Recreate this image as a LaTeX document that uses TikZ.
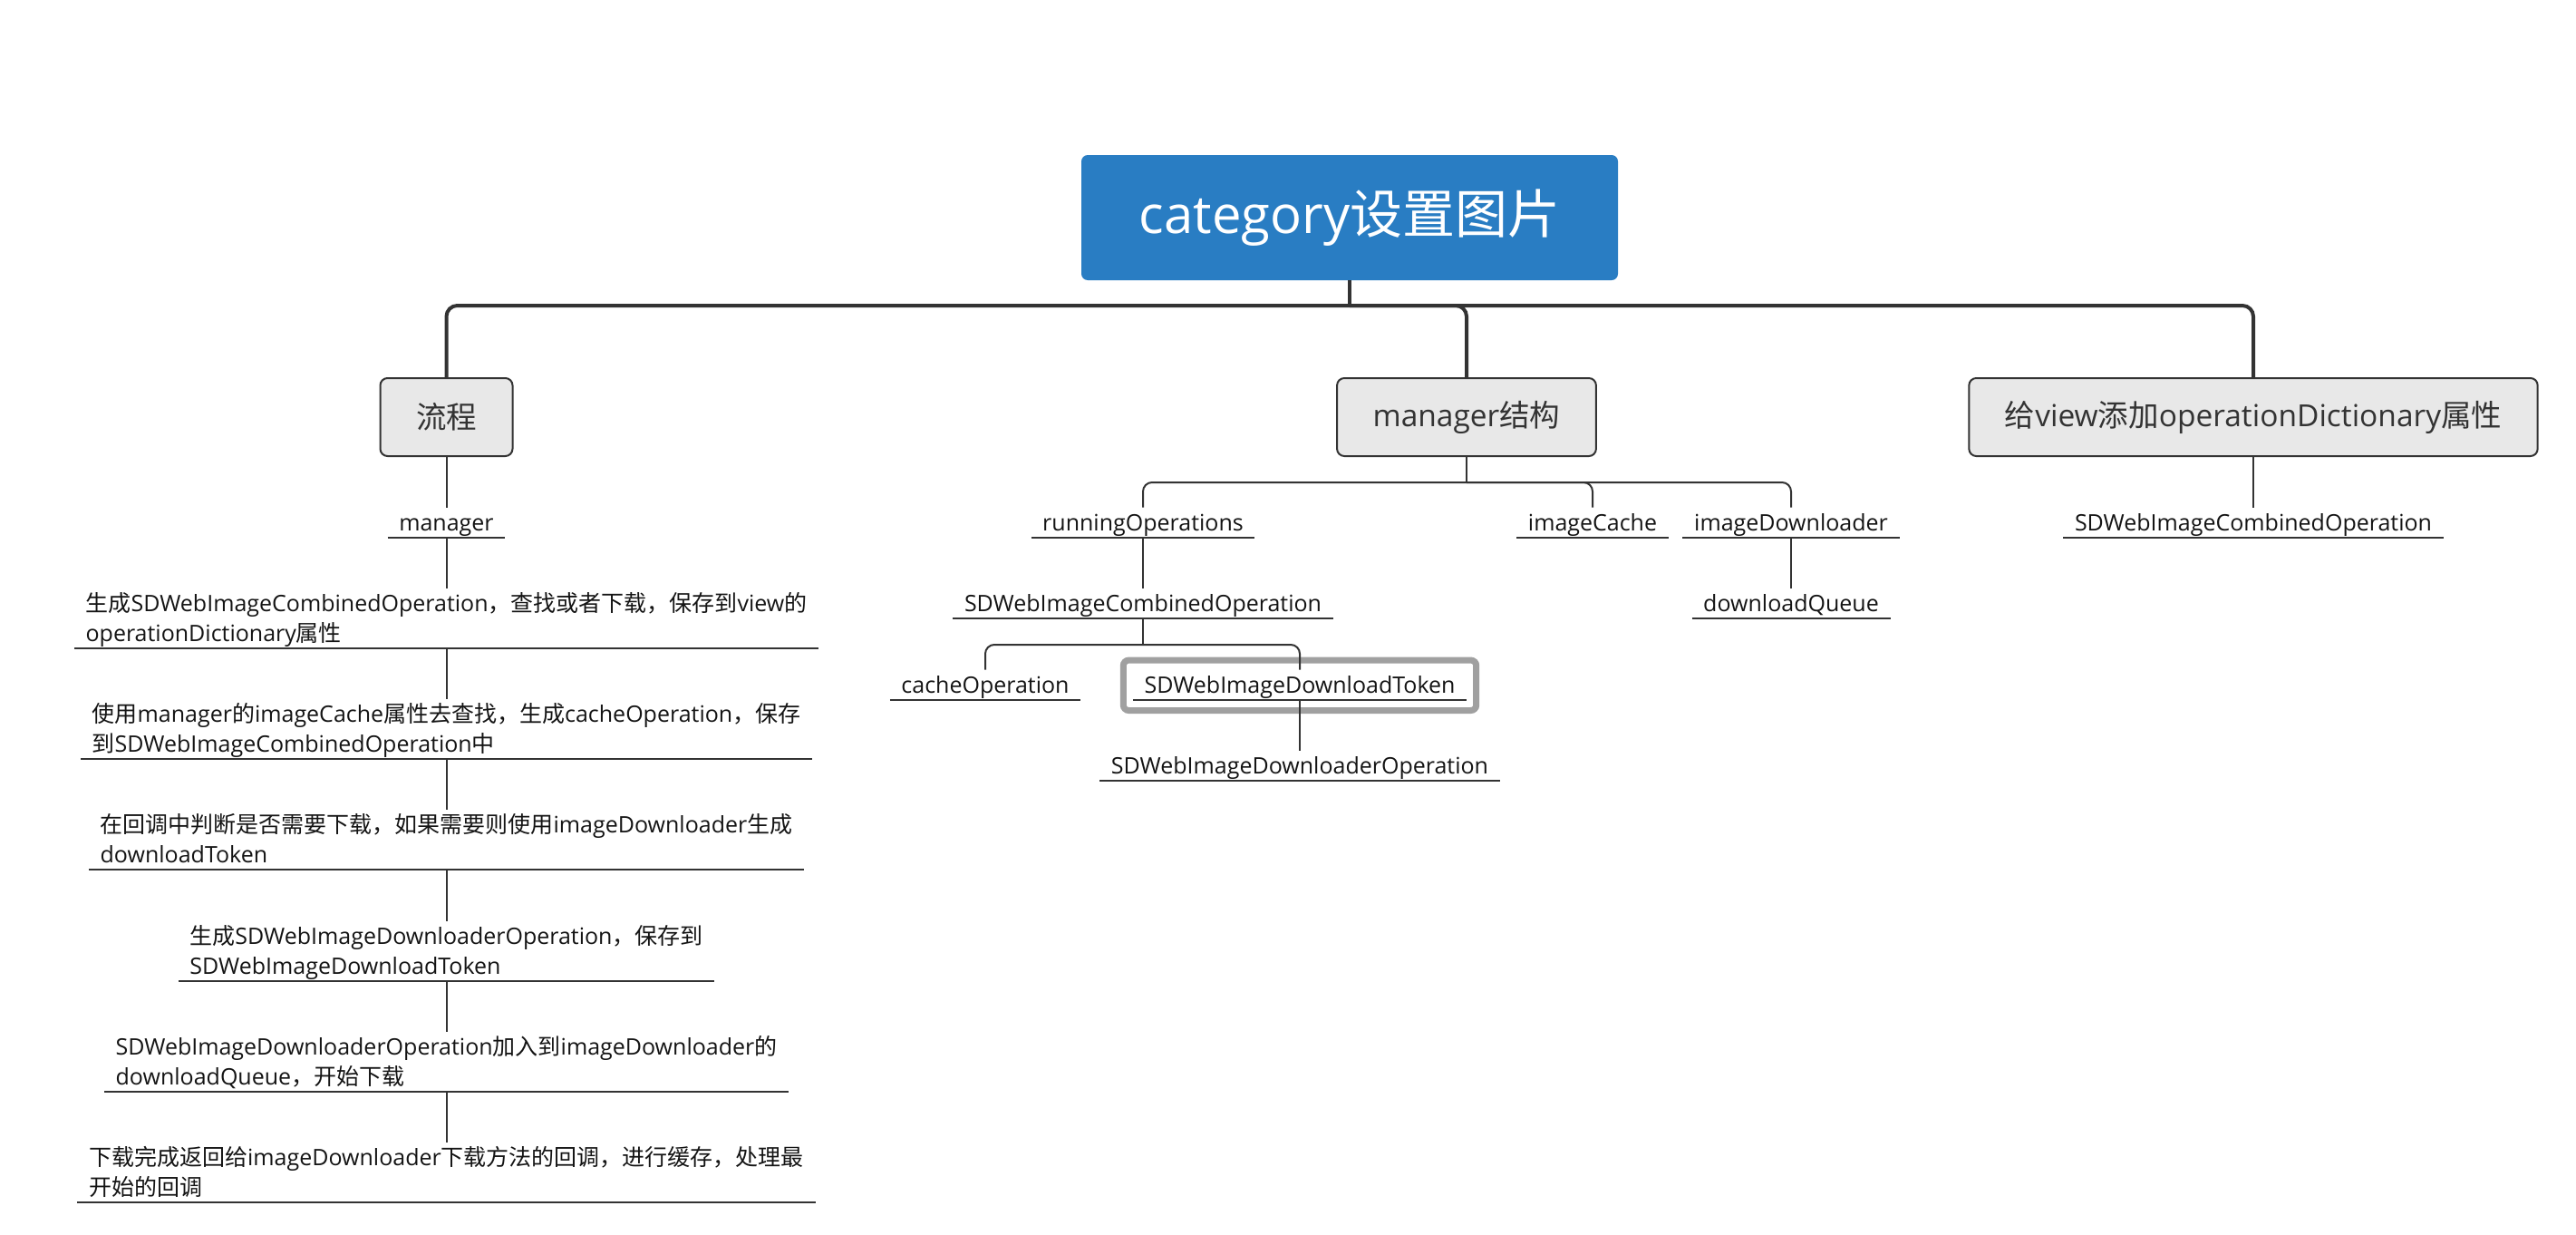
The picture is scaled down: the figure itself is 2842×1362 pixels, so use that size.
\documentclass[tikz,border=0pt]{standalone}
\usepackage{fontspec}
\setmainfont{Open Sans}
\newfontfamily\cjk{Noto Sans CJK SC}
\newcommand\zh[1]{{\cjk #1}}
\newcommand\stl{\rule[-7pt]{0pt}{33pt}}
\definecolor{rootblue}{RGB}{41,125,195}
\definecolor{boxgrey}{RGB}{232,232,232}
\definecolor{ink}{RGB}{51,51,51}
\definecolor{selgrey}{RGB}{160,160,160}
\begin{document}
\begin{tikzpicture}[x=1pt,y=-1pt,
  rootbox/.style={fill=rootblue, draw=none, rounded corners=7pt, text=white,
    font=\fontsize{58}{70}\selectfont, minimum width=592pt, minimum height=138pt, inner sep=0pt},
  topic/.style={fill=boxgrey, draw=ink, line width=2pt, rounded corners=8pt, text=ink,
    font=\fontsize{33.5}{40}\selectfont, inner xsep=39.5pt, inner ysep=0pt, minimum height=86pt},
  leaf/.style={anchor=south, align=left, inner xsep=12.5pt, inner ysep=0pt, text=black!92,
    font=\fontsize{25}{33}\selectfont},
  bus/.style={draw=ink, line width=4pt, rounded corners=12pt},
  twig/.style={draw=ink, line width=2pt, rounded corners=10pt},
  ulline/.style={draw=ink, line width=2.2pt},
  sel/.style={draw=selgrey, line width=7pt, rounded corners=6pt}
]
\useasboundingbox (0,0) rectangle (2842,1362);

% root and main topics
\node[rootbox] (root) at (1489,240) {category\zh{设置图片}};
\node[topic] (flow) at (492.5,460) {\zh{流程}};
\node[topic] (mgr) at (1618,460) {manager\zh{结构}};
\node[topic] (addv) at (2486,460) {\zh{给}view\zh{添加}operationDictionary\zh{属性}};

\coordinate (rbus) at (1489,337);
\draw[bus] (root.south) -- (rbus);
\draw[bus] (rbus) -| (flow.north);
\draw[bus] (rbus) -| (mgr.north);
\draw[bus] (rbus) -| (addv.north);

% left column
\node[leaf] (f1) at (492.5,593) {\stl manager};
\node[leaf] (f2) at (492.5,715) {\stl\zh{生成}SDWebImageCombinedOperation\zh{，查找或者下载，保存到}view\zh{的}\\\stl operationDictionary\zh{属性}};
\node[leaf] (f3) at (492.5,837) {\stl\zh{使用}manager\zh{的}imageCache\zh{属性去查找，生成}cacheOperation\zh{，保存}\\\stl\zh{到}SDWebImageCombinedOperation\zh{中}};
\node[leaf] (f4) at (492.5,959) {\stl\zh{在回调中判断是否需要下载，如果需要则使用}imageDownloader\zh{生成}\\\stl downloadToken};
\node[leaf] (f5) at (492.5,1082) {\stl\zh{生成}SDWebImageDownloaderOperation\zh{，保存到}\\\stl SDWebImageDownloadToken};
\node[leaf] (f6) at (492.5,1204) {\stl SDWebImageDownloaderOperation\zh{加入到}imageDownloader\zh{的}\\\stl downloadQueue\zh{，开始下载}};
\node[leaf] (f7) at (492.5,1326) {\stl\zh{下载完成返回给}imageDownloader\zh{下载方法的回调，进行缓存，处理最}\\\stl\zh{开始的回调}};

\draw[twig] (flow.south) -- (f1.north);
\draw[twig] (f1.south) -- (f2.north);
\draw[twig] (f2.south) -- (f3.north);
\draw[twig] (f3.south) -- (f4.north);
\draw[twig] (f4.south) -- (f5.north);
\draw[twig] (f5.south) -- (f6.north);
\draw[twig] (f6.south) -- (f7.north);

% middle column
\node[leaf] (run) at (1261,593) {\stl runningOperations};
\node[leaf] (comb) at (1261,682) {\stl SDWebImageCombinedOperation};
\node[leaf] (cache) at (1087,772) {\stl cacheOperation};
\node[leaf] (token) at (1434,772) {\stl SDWebImageDownloadToken};
\node[leaf] (dlop) at (1434,861) {\stl SDWebImageDownloaderOperation};
\node[leaf] (icache) at (1757,593) {\stl imageCache};
\node[leaf] (idown) at (1976,593) {\stl imageDownloader};
\node[leaf] (queue) at (1976,682) {\stl downloadQueue};

\draw[sel] ([shift={(-10.5,-10.5)}]token.north west) rectangle ([shift={(10.5,11.5)}]token.south east);

\coordinate (mbus) at (1618,532);
\draw[twig] (mgr.south) -- (mbus);
\draw[twig] (mbus) -| (run.north);
\draw[twig] (mbus) -| (icache.north);
\draw[twig] (mbus) -| (idown.north);
\draw[twig] (run.south) -- (comb.north);
\coordinate (cbus) at (1261,711);
\draw[twig] (comb.south) -- (cbus);
\draw[twig] (cbus) -| (cache.north);
\draw[twig] (cbus) -| (token.north);
\draw[twig] (token.south) -- (dlop.north);
\draw[twig] (idown.south) -- (queue.north);

% right column
\node[leaf] (r1) at (2486,593) {\stl SDWebImageCombinedOperation};
\draw[twig] (addv.south) -- (r1.north);

% underlines
\foreach \n in {f1,f2,f3,f4,f5,f6,f7,run,comb,cache,token,dlop,icache,idown,queue,r1}
  \draw[ulline] (\n.south west) -- (\n.south east);
\end{tikzpicture}
\end{document}
